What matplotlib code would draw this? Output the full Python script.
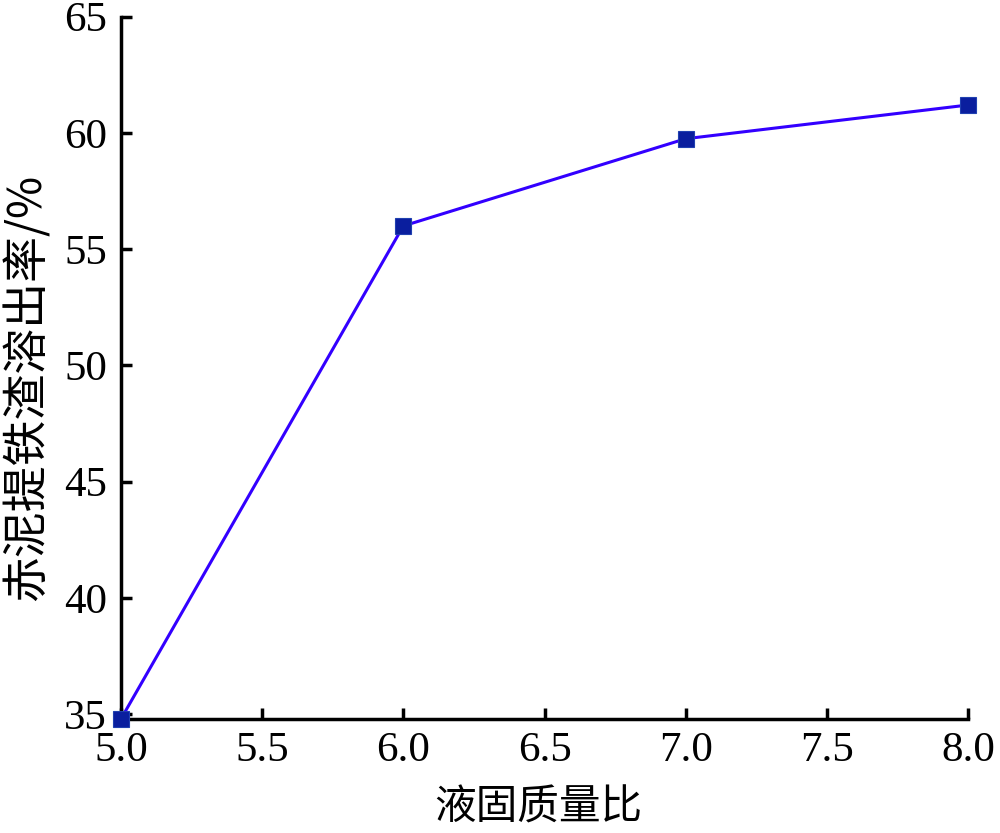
import matplotlib
matplotlib.use("Agg")
import matplotlib.pyplot as plt

# ── Data ───────────────────────────────────────────────────────────────
ratio = [5.0, 6.0, 7.0, 8.0]
leach_rate = [34.8, 56.0, 59.75, 61.2]

xticks = [5.0, 5.5, 6.0, 6.5, 7.0, 7.5, 8.0]
yticks = [35, 40, 45, 50, 55, 60, 65]

XLABEL = "液固质量比"
YLABEL = "赤泥提铁渣溶出率/%"

LINE_C = "#3300FF"
MARK_C = "#0A1E9E"

plt.rcParams['font.family'] = ['Liberation Serif', 'Noto Sans CJK SC']

fig = plt.figure(figsize=(10, 8.33), dpi=100)
ax = fig.add_axes([0.121, 0.137, 0.847, 0.843])

ax.plot(ratio, leach_rate, '-', color=LINE_C, lw=2.2, zorder=3,
        clip_on=False)
ax.plot(ratio, leach_rate, 's', color=MARK_C, ms=11, mec="#2040B0",
        mew=0.8, zorder=4, clip_on=False)

ax.set_xlim(5.0, 8.0)
ax.set_ylim(34.8, 65)
ax.set_xticks(xticks)
ax.set_xticklabels([f"{v:.1f}" for v in xticks])
ax.set_yticks(yticks)

for s in ('top', 'right'):
    ax.spines[s].set_visible(False)
for s in ('left', 'bottom'):
    ax.spines[s].set_linewidth(2.5)

ax.tick_params(direction='in', length=8, width=2.5, labelsize=31)
ax.tick_params(axis='y', pad=10)
ax.tick_params(axis='x', pad=9)
for lab in ax.get_xticklabels() + ax.get_yticklabels():
    lab.set_family(['Liberation Serif'])

ax.set_xlabel(XLABEL, fontsize=30, family=['Noto Sans CJK SC'], va='center')
ax.xaxis.set_label_coords(0.493, -0.127)
ax.set_ylabel(YLABEL, fontsize=33, family=['Noto Sans CJK SC', 'Liberation Serif'],
              va='center')
ax.yaxis.set_label_coords(-0.11, 0.472)

fig.savefig("out.png", dpi=100)
